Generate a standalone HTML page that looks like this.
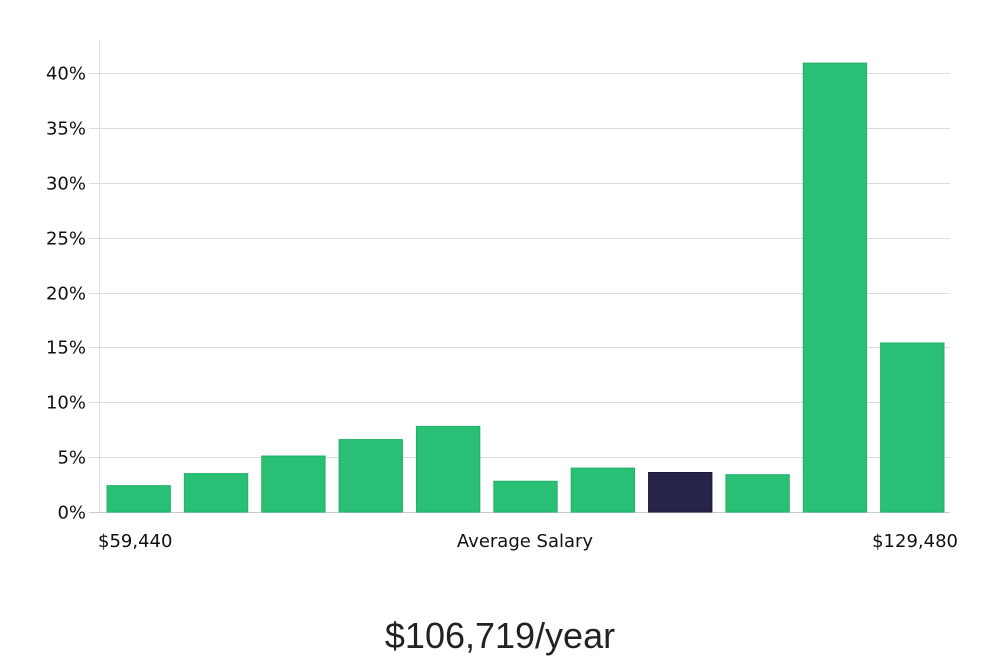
<!DOCTYPE html>
<html><head><meta charset="utf-8">
<style>
html,body{margin:0;padding:0;background:#fff;}
svg{display:block;font-family:"DejaVu Sans","Liberation Sans",sans-serif;}
</style></head>
<body>
<svg id="chart" width="1000" height="660" viewBox="0 0 1000 660" xmlns="http://www.w3.org/2000/svg">
<g id="grid"></g>
<g id="bars"></g>
<g id="yticks"></g>
<line x1="99.5" y1="40" x2="99.5" y2="512" stroke="#ddd" stroke-width="1"/>
<text x="98" y="547" font-size="18" fill="#111">$59,440</text>
<text x="525" y="547" font-size="18" fill="#111" text-anchor="middle">Average Salary</text>
<text x="958" y="547" font-size="18" fill="#111" text-anchor="end">$129,480</text>
<text x="500" y="648" font-size="36" font-weight="300" fill="#222" text-anchor="middle" font-family="'Liberation Sans',sans-serif">$106,719/year</text>
</svg>
<script>
const categories = ["b1","b2","b3","b4","b5","b6","b7","b8","b9","b10","b11"];
const values = [2.4, 3.5, 5.1, 6.6, 7.8, 2.8, 4.0, 3.6, 3.4, 40.9, 15.4];
const highlightIndex = 7;
const yTicks = [0, 5, 10, 15, 20, 25, 30, 35, 40];
const yTickLabels = ["0%","5%","10%","15%","20%","25%","30%","35%","40%"];

const NS = "http://www.w3.org/2000/svg";
const plotLeft = 99, plotRight = 950, y0 = 512, y40 = 73;
function yScale(v){ return y0 - (v/40)*(y0-y40); }
const slot = (plotRight - plotLeft) / categories.length;
function xScale(i){ return plotLeft + slot*i + 8; }
const barW = slot - 14;

const grid = document.getElementById('grid');
const yt = document.getElementById('yticks');
yTicks.forEach((t,i)=>{
  const y = Math.round(yScale(t)) + 0.5;
  const l = document.createElementNS(NS,'line');
  
  
  l.setAttribute('x1',plotLeft-10); l.setAttribute('x2',plotRight);
  l.setAttribute('y1',y); l.setAttribute('y2',y);
  l.setAttribute('stroke', t===0 ? '#ccc' : '#ddd');
  grid.appendChild(l);
  const tx = document.createElementNS(NS,'text');
  
  
  tx.setAttribute('x',86); tx.setAttribute('y',y+6);
  tx.setAttribute('text-anchor','end'); tx.setAttribute('font-size','18'); tx.setAttribute('fill','#111');
  tx.textContent = yTickLabels[i];
  yt.appendChild(tx);
});
const bars = document.getElementById('bars');
values.forEach((v,i)=>{
  const r = document.createElementNS(NS,'rect');
  
  
  const top = yScale(v);
  r.setAttribute('x',xScale(i)); r.setAttribute('width',barW);
  r.setAttribute('y',top); r.setAttribute('height',y0-top);
  r.setAttribute('fill', i===highlightIndex ? '#27244a' : '#29bf74');
  r.setAttribute('stroke', i===highlightIndex ? '#1d1a3a' : '#22b068');
  r.setAttribute('stroke-width','1');
  bars.appendChild(r);
});
</script>
</body></html>
